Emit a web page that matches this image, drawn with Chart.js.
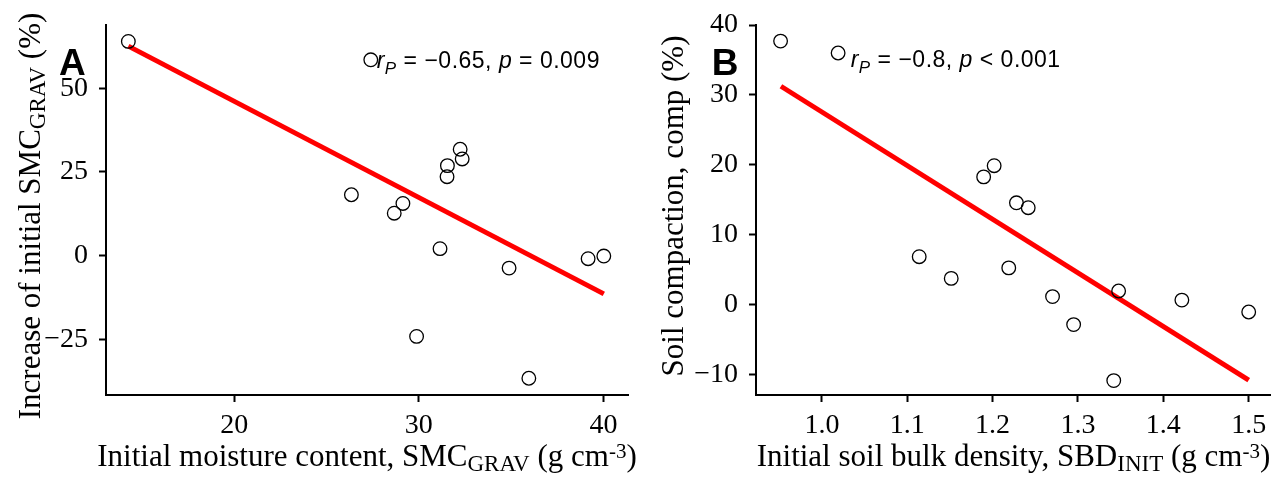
<!DOCTYPE html>
<html>
<head>
<meta charset="utf-8">
<script src="https://cdn.jsdelivr.net/npm/chart.js@4"></script>
<style>
  html, body { margin: 0; padding: 0; background: #fff; }
  #wrap { position: relative; width: 1279px; height: 477px; overflow: hidden; }
  .panel { position: absolute; top: 0; height: 477px; }
  #panelA { left: 0; width: 640px; }
  #panelB { left: 640px; width: 639px; }
</style>
</head>
<body>
<div id="wrap">
  <div class="panel" id="panelA"><canvas id="graficoA"></canvas></div>
  <div class="panel" id="panelB"><canvas id="graficoB"></canvas></div>
</div>
<script>
// Painel A - umidade inicial x aumento da umidade
const umidadeA = [14.27, 27.4, 26.35, 28.67, 29.14, 29.88, 31.15, 31.53, 31.55, 32.24, 32.35, 34.89, 35.96, 39.17, 40.02];
const aumentoA = [64.0, 58.5, 18.2, 12.7, 15.6, -24.1, 2.1, 23.6, 26.9, 31.8, 28.9, -3.7, -36.6, -0.9, -0.1];
const retaAx = [14.27, 40.02];
const retaAy = [62.6, -11.4];
const ticksAx = [20, 30, 40];
const ticksAy = [-25, 0, 25, 50];

// Painel B - densidade inicial x compactação
const densidadeB = [0.9516, 1.019, 1.114, 1.1515, 1.1895, 1.2018, 1.2189, 1.2279, 1.2417, 1.2702, 1.2949, 1.3419, 1.3476, 1.4217, 1.5];
const compactacaoB = [37.7, 36.0, 6.9, 3.8, 18.3, 19.9, 5.3, 14.6, 13.9, 1.2, -2.8, -10.8, 2.0, 0.7, -1.0];
const retaBx = [0.952, 1.5];
const retaBy = [31.25, -10.75];
const ticksBx = [1.0, 1.1, 1.2, 1.3, 1.4, 1.5];
const ticksBy = [-10, 0, 10, 20, 30, 40];

const SERIF = "'Liberation Serif', 'Times New Roman', serif";
const SANS = "'Liberation Sans', Arial, sans-serif";

function menos(v) {
    return String(v).replace("-", "\u2212");
}

function fonte(p) {
    return (p.i ? "italic " : "") + (p.b ? "bold " : "") + p.s + "px " + (p.f || SERIF);
}

function desenharTexto(ctx, partes, x, y, alinhar, espaco) {
    ctx.letterSpacing = (espaco || 0) + "px";
    let largura = 0;
    partes.forEach(p => { ctx.font = fonte(p); largura += ctx.measureText(p.t).width; });
    let cx = alinhar === "center" ? x - largura / 2 : x;
    partes.forEach(p => {
        ctx.font = fonte(p);
        ctx.fillText(p.t, cx, y + (p.dy || 0));
        cx += ctx.measureText(p.t).width;
    });
    ctx.letterSpacing = "0px";
}

function textosPlugin(cfg) {
    return {
        id: "textos",
        afterDraw(chart) {
            const ctx = chart.ctx;
            const area = chart.chartArea;
            ctx.save();
            ctx.fillStyle = "#000";
            ctx.textBaseline = "alphabetic";
            ctx.textAlign = "left";
            // titulo do eixo x
            desenharTexto(ctx, cfg.tituloX, (area.left + area.right) / 2, cfg.baseX, "center");
            // titulo do eixo y (girado)
            ctx.save();
            ctx.translate(cfg.baseY, cfg.centroY);
            ctx.rotate(-Math.PI / 2);
            desenharTexto(ctx, cfg.tituloY, 0, 0, "center");
            ctx.restore();
            // letra do painel
            desenharTexto(ctx, [{ t: cfg.letra, s: 37, b: true, f: SANS }], cfg.letraX, 75, "left");
            // correlacao
            desenharTexto(ctx, cfg.correlacao, cfg.corrX, cfg.corrY, "left", 0.5);
            ctx.restore();
        }
    };
}

function eixo(min, max, ticks, largura, altura, formato, padding) {
    return {
        type: "linear",
        min: min,
        max: max,
        afterBuildTicks: s => { s.ticks = ticks.map(v => ({ value: v })); },
        afterFit: s => {
            if (largura) s.width = largura;
            if (altura) s.height = altura;
            s.paddingTop = 0;
            s.paddingBottom = 0;
            s.paddingLeft = 0;
            s.paddingRight = 0;
        },
        grid: {
            display: true,
            drawOnChartArea: false,
            drawTicks: true,
            tickLength: 7,
            tickWidth: 2,
            tickColor: "#000"
        },
        border: { display: true, color: "#000", width: 2 },
        ticks: {
            color: "#000",
            font: { family: SERIF, size: 28 },
            padding: padding,
            callback: formato
        }
    };
}

function criarGrafico(id, xs, ys, rx, ry, escalas, padDireita, textos) {
    new Chart(document.getElementById(id), {
        type: "scatter",
        data: {
            datasets: [{
                data: xs.map((v, i) => ({ x: v, y: ys[i] })),
                pointRadius: 6.8,
                pointBorderWidth: 1.3,
                pointBorderColor: "#000",
                pointBackgroundColor: "rgba(0,0,0,0)",
                order: 0
            }, {
                type: "line",
                data: rx.map((v, i) => ({ x: v, y: ry[i] })),
                borderColor: "#ff0000",
                borderWidth: 5,
                pointRadius: 0,
                fill: false,
                order: 1
            }]
        },
        options: {
            responsive: true,
            maintainAspectRatio: false,
            animation: false,
            devicePixelRatio: 1,
            layout: { padding: { top: 25, right: padDireita, left: 0, bottom: 0 } },
            plugins: { legend: { display: false }, tooltip: { enabled: false } },
            scales: escalas
        },
        plugins: [textosPlugin(textos)]
    });
}

const sub = s => ({ t: s, s: 23, dy: 5 });
const sup = s => ({ t: s, s: 21, dy: -8 });
const n = s => ({ t: s, s: 31 });
const it = (s, tam, dy) => ({ t: s, s: tam, i: true, f: SANS, dy: dy || 0 });
const rg = s => ({ t: s, s: 23, f: SANS });

criarGrafico("graficoA", umidadeA, aumentoA, retaAx, retaAy, {
    x: eixo(13.06, 41.33, ticksAx, null, 82, v => menos(v), 7),
    y: eixo(-41.6, 68.9, ticksAy, 106, null, v => menos(v), 11)
}, 12, {
    tituloX: [n("Initial moisture content, SMC"), sub("GRAV"), n(" (g cm"), sup("-3"), n(")")],
    tituloY: [n("Increase of initial SMC"), sub("GRAV"), n(" (%)")],
    baseX: 466, baseY: 39.5, centroY: 216,
    letra: "A", letraX: 59,
    correlacao: [it("r", 23), it("P", 17, 6), rg(" = \u22120.65, "), it("p", 23), rg(" = 0.009")],
    corrX: 376.7, corrY: 67.7
});

criarGrafico("graficoB", densidadeB, compactacaoB, retaBx, retaBy, {
    x: eixo(0.9228, 1.526, ticksBx, null, 82, v => v.toFixed(1), 7),
    y: eixo(-12.86, 40, ticksBy, 116, null, v => menos(v), 11)
}, 6, {
    tituloX: [n("Initial soil bulk density, SBD"), sub("INIT"), n(" (g cm"), sup("-3"), n(")")],
    tituloY: [n("Soil compaction, comp (%)")],
    baseX: 466, baseY: 42.7, centroY: 206,
    letra: "B", letraX: 71.7,
    correlacao: [it("r", 23), it("P", 17, 6), rg(" = \u22120.8, "), it("p", 23), rg(" < 0.001")],
    corrX: 210.7, corrY: 67.3
});
</script>
</body>
</html>
